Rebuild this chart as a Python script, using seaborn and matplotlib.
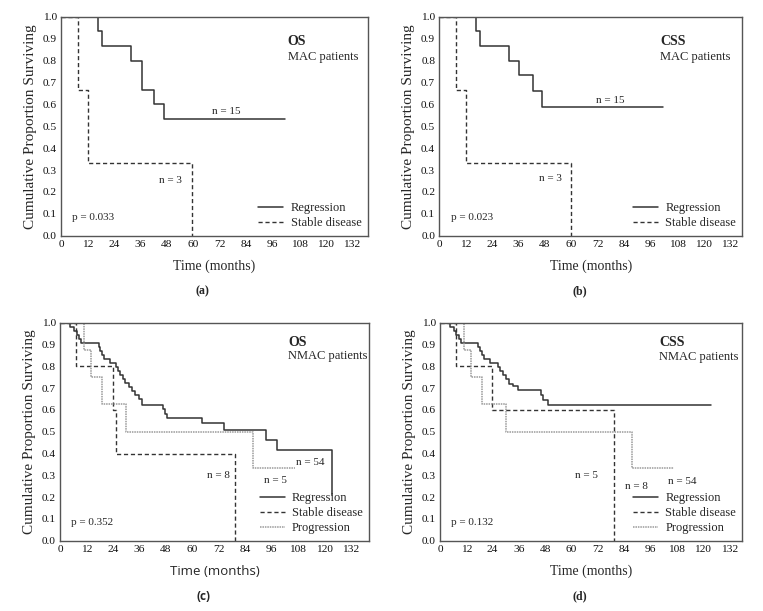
import numpy as np
import pandas as pd
import matplotlib
matplotlib.use("Agg")
import matplotlib.pyplot as plt
import seaborn as sns

# Kaplan-Meier curves: step start times (months) and survival proportion
# (a) OS, MAC patients
os_mac_reg_t = [0, 16.8, 18.8, 31.8, 36.6, 42.4, 46.5, 101.5]
os_mac_reg_s = [1.0, 0.933, 0.867, 0.8, 0.667, 0.6, 0.533, 0.533]
os_mac_sd_t = [0, 7.7, 12.1, 59.6]
os_mac_sd_s = [1.0, 0.667, 0.333, 0.0]

# (b) CSS, MAC patients
css_mac_reg_t = [0, 16.8, 18.6, 31.5, 36.4, 42.4, 46.6, 101.5]
css_mac_reg_s = [1.0, 0.933, 0.867, 0.8, 0.733, 0.66, 0.587, 0.587]
css_mac_sd_t = [0, 7.7, 12.1, 59.6]
css_mac_sd_s = [1.0, 0.667, 0.333, 0.0]

# (c) OS, NMAC patients
os_nmac_reg_t = [0, 4.5, 6.5, 7.5, 8.5, 9.5, 17.5, 18.3, 19.2, 20.1, 22.5, 25.3, 26.3,
                 27.4, 28.6, 29.7, 31.5, 32.7, 34.2, 35.7, 37.2, 46.6, 47.6, 48.8,
                 64.6, 74.5, 93.5, 98.4, 123.5]
os_nmac_reg_s = [1.0, 0.981, 0.963, 0.944, 0.926, 0.907, 0.889, 0.870, 0.852, 0.833,
                 0.815, 0.796, 0.778, 0.759, 0.741, 0.722, 0.704, 0.685, 0.667, 0.648,
                 0.622, 0.602, 0.583, 0.561, 0.538, 0.506, 0.462, 0.415, 0.21]
os_nmac_sd_t = [0, 7.1, 23.9, 25.2, 79.5]
os_nmac_sd_s = [1.0, 0.8, 0.6, 0.4, 0.0]
os_nmac_pr_t = [0, 11.0, 13.9, 18.9, 30.0, 87.5, 106.7]
os_nmac_pr_s = [1.0, 0.875, 0.75, 0.625, 0.5, 0.333, 0.333]

# (d) CSS, NMAC patients
css_nmac_reg_t = [0, 4.5, 6.5, 7.5, 8.5, 9.5, 17.5, 18.3, 19.2, 20.1, 22.7, 26.5, 27.5,
                  28.7, 30.0, 31.3, 33.3, 35.7, 46.0, 47.2, 49.3, 123.5]
css_nmac_reg_s = [1.0, 0.981, 0.963, 0.944, 0.926, 0.907, 0.889, 0.870, 0.852, 0.833,
                  0.815, 0.796, 0.777, 0.758, 0.74, 0.72, 0.71, 0.69, 0.668, 0.645,
                  0.622, 0.622]
css_nmac_sd_t = [0, 7.1, 23.9, 79.5]
css_nmac_sd_s = [1.0, 0.8, 0.6, 0.0]
css_nmac_pr_t = [0, 11.0, 14.0, 19.0, 30.0, 87.5, 106.8]
css_nmac_pr_s = [1.0, 0.875, 0.75, 0.625, 0.5, 0.333, 0.333]

x_ticks = list(range(0, 133, 12))
y_ticks = [round(v * 0.1, 1) for v in range(11)]

sns.set_style("white")
plt.rcParams['font.family'] = ['Liberation Serif', 'DejaVu Serif']

STYLES = {
    "Regression": dict(color="#333333", linestyle="-", linewidth=1.1),
    "Stable disease": dict(color="#333333", linestyle=(0, (3, 2)), linewidth=1.0),
    "Progression": dict(color="#9a9a9a", linestyle=(0, (1, 0.6)), linewidth=1.1),
}

W, H = 763, 611
fig = plt.figure(figsize=(W / 100, H / 100), dpi=100)


def px_axes(left, right, top, bottom):
    return fig.add_axes([left / W, 1 - bottom / H, (right - left) / W, (bottom - top) / H])


panels = [
    dict(box=(61, 367.7, 16.7, 235.7), xmax=139.1, title="OS", sub="MAC patients",
         tpos=(102.8, 0.886, 0.815), letter="(a)",
         curves=[("Regression", os_mac_reg_t, os_mac_reg_s),
                 ("Stable disease", os_mac_sd_t, os_mac_sd_s)],
         notes=[("n = 15", 75, 0.566), ("n = 3", 49.8, 0.254)], p="p = 0.033"),
    dict(box=(439.3, 742.3, 16.7, 235.7), xmax=137.6, title="CSS", sub="MAC patients",
         tpos=(100.2, 0.886, 0.815), letter="(b)",
         curves=[("Regression", css_mac_reg_t, css_mac_reg_s),
                 ("Stable disease", css_mac_sd_t, css_mac_sd_s)],
         notes=[("n = 15", 77.5, 0.616), ("n = 3", 50.3, 0.26)], p="p = 0.023"),
    dict(box=(60, 369, 322.7, 540.7), xmax=140.3, title="OS", sub="NMAC patients",
         tpos=(103.7, 0.908, 0.847), letter="(c)",
         curves=[("Regression", os_nmac_reg_t, os_nmac_reg_s),
                 ("Stable disease", os_nmac_sd_t, os_nmac_sd_s),
                 ("Progression", os_nmac_pr_t, os_nmac_pr_s)],
         notes=[("n = 54", 113.8, 0.359), ("n = 5", 98, 0.274), ("n = 8", 71.9, 0.301)],
         p="p = 0.352"),
    dict(box=(440, 742.3, 322.7, 540.7), xmax=138.0, title="CSS", sub="NMAC patients",
         tpos=(100.2, 0.908, 0.843), letter="(d)",
         curves=[("Regression", css_nmac_reg_t, css_nmac_reg_s),
                 ("Stable disease", css_nmac_sd_t, css_nmac_sd_s),
                 ("Progression", css_nmac_pr_t, css_nmac_pr_s)],
         notes=[("n = 54", 110.4, 0.27), ("n = 5", 67, 0.297), ("n = 8", 89.8, 0.248)],
         p="p = 0.132"),
]

for i, pn in enumerate(panels):
    ax = px_axes(*pn["box"])
    for name, t, s in pn["curves"]:
        df = pd.DataFrame({"t": t, "s": s})
        sns.lineplot(data=df, x="t", y="s", ax=ax, drawstyle="steps-post",
                     estimator=None, sort=False, label=name, **STYLES[name])
    ax.set_xlim(0, pn["xmax"])
    ax.set_ylim(0, 1.0)
    ax.set_xticks(x_ticks)
    ax.set_yticks(y_ticks)
    ax.set_yticklabels([f"{v:.1f}" for v in y_ticks])
    ax.tick_params(direction="in", length=2, width=0.8, color="#777777",
                   labelsize=8.2, pad=3, labelcolor="#111111")
    for sp in ax.spines.values():
        sp.set_color("#555555")
        sp.set_linewidth(1.0)
    ax.set_ylabel("Cumulative Proportion Surviving", fontsize=11, labelpad=4)
    if i == 2:
        ax.set_xlabel("Time (months)", fontsize=9.5, labelpad=8,
                      family=['Open Sans', 'DejaVu Sans'])
    else:
        ax.set_xlabel("Time (months)", fontsize=10, labelpad=8)

    tx, ty1, ty2 = pn["tpos"]
    ax.text(tx, ty1, pn["title"], fontsize=10, fontweight="bold", va="center", ha="left")
    ax.text(tx, ty2, pn["sub"], fontsize=9, va="center", ha="left")
    for txt, nx, ny in pn["notes"]:
        ax.text(nx, ny, txt, fontsize=8, ha="center", va="center")
    ax.text(5.2, 0.082, pn["p"], fontsize=8, ha="left", va="center")

    ax.legend(loc="lower right", frameon=False, fontsize=9, handlelength=2.0,
              handletextpad=0.6, labelspacing=0.25, borderaxespad=0.3, borderpad=0.2)

    # panel letter under each subplot
    l, r, top, bot = pn["box"]
    cx = (l + r) / 2 / W
    ly = 291 if i < 2 else 596
    fam = ['Open Sans', 'DejaVu Sans'] if i == 2 else ['Liberation Serif', 'DejaVu Serif']
    fig.text(cx - 0.015, 1 - ly / H, pn["letter"], fontsize=8.5, fontweight="bold",
             ha="center", va="center", family=fam)

fig.savefig("out.png", dpi=100)
